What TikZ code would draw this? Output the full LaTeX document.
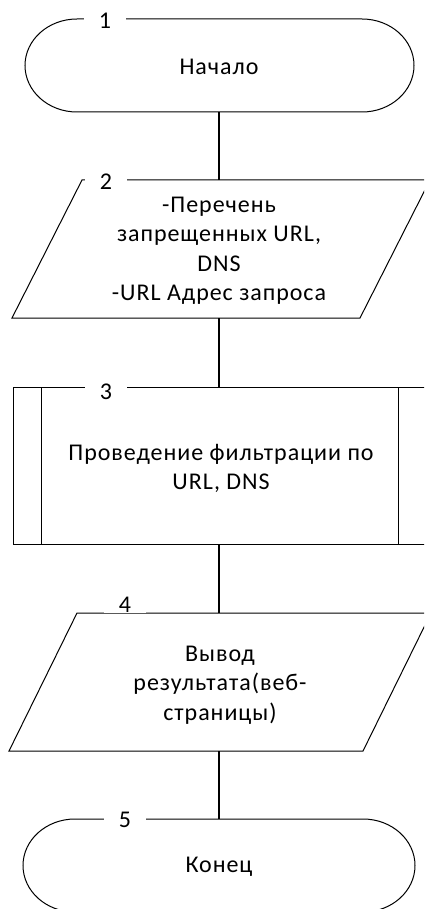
\documentclass[tikz,border=0pt]{standalone}
\usepackage{fontspec}
\setmainfont{Carlito}[LetterSpace=4]
\newcommand\mystrut{\rule[-5pt]{0pt}{21pt}}
\begin{document}
\begin{tikzpicture}[x=1pt,y=-1pt,
  shapeline/.style={draw=black,line width=1pt},
  conn/.style={draw=black,line width=2.5pt},
  txt/.style={align=center,inner sep=0pt,
    font=\fontsize{24}{29.5}\selectfont},
  lbl/.style={fill=white,inner xsep=0pt,inner ysep=0pt,minimum width=42pt,
    minimum height=10pt,font=\fontsize{24}{29}\selectfont}]
\useasboundingbox (0,0) rectangle (424,909);
\clip (0,0) rectangle (424,909);
% shape 1: start terminal
\draw[shapeline] (77,19) -- (362,19) arc[start angle=-90,end angle=90,x radius=52,y radius=46.5]
  -- (77,112) arc[start angle=90,end angle=270,x radius=52,y radius=46.5] -- cycle;
% shape 2: data
\draw[shapeline] (82,180) -- (430,180) -- (360,318) -- (12,318) -- cycle;
% shape 3: predefined process
\draw[shapeline] (13,387) rectangle (426,544);
\draw[shapeline] (41,387) -- (41,544);
\draw[shapeline] (398,387) -- (398,544);
% shape 4: data
\draw[shapeline] (77,613) -- (431,613) -- (363,751) -- (9,751) -- cycle;
% shape 5: end terminal
\draw[shapeline] (75,819) -- (363,819) arc[start angle=-90,end angle=90,x radius=52,y radius=46.5]
  -- (75,912) arc[start angle=90,end angle=270,x radius=52,y radius=46.5] -- cycle;

% connection points
\coordinate (s1b) at (219,112);
\coordinate (s2t) at (219,180);
\coordinate (s2b) at (219,318);
\coordinate (s3t) at (219,387);
\coordinate (s3b) at (219,544);
\coordinate (s4t) at (219,613);
\coordinate (s4b) at (219,751);
\coordinate (s5t) at (219,819);
\draw[conn] (s1b) -- (s2t);
\draw[conn] (s2b) -- (s3t);
\draw[conn] (s3b) -- (s4t);
\draw[conn] (s4b) -- (s5t);

% labels
\node[lbl] (n1) at (105,21) {1};
\node[lbl] (n2) at (106,182) {2};
\node[lbl] (n3) at (106,392) {3};
\node[lbl] (n4) at (125,605) {4};
\node[lbl] (n5) at (125,820) {5};

% texts
\node[txt] (t1) at (219,69.5) {\mystrut Начало};
\node[txt] (t2) at (219,251) {\mystrut-Перечень\\\mystrut запрещенных URL,\\\mystrut DNS\\\mystrut-URL Адрес запроса};
\node[txt] (t3) at (221,469.5) {\mystrut Проведение фильтрации по\\\mystrut URL, DNS};
\node[txt] (t4) at (220,685) {\mystrut Вывод\\\mystrut результата(веб-\\\mystrut страницы)};
\node[txt] (t5) at (219,867) {\mystrut Конец};
\end{tikzpicture}
\end{document}
